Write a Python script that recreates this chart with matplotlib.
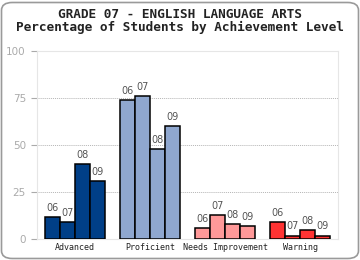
import matplotlib
matplotlib.use("Agg")
import matplotlib.pyplot as plt
from matplotlib.patches import FancyBboxPatch
import numpy as np

categories = ["Advanced", "Proficient", "Needs Improvement", "Warning"]
years = ["06", "07", "08", "09"]
advanced = [12, 9, 40, 31]
proficient = [74, 76, 48, 60]
needs_improvement = [6, 13, 8, 7]
warning = [9, 2, 5, 2]
series = [advanced, proficient, needs_improvement, warning]
colors = ["#003F87", "#8FA7CF", "#FF9999", "#FF3333"]
yticks = [0, 25, 50, 75, 100]

fig = plt.figure(figsize=(3.6, 2.6), dpi=100)
fig.patch.set_facecolor("white")

border = FancyBboxPatch((1.5 / 360, 1.5 / 260), 357 / 360, 256 / 260,
                        boxstyle="round,pad=0,rounding_size=0.03",
                        transform=fig.transFigure, facecolor="none",
                        edgecolor="#9a9a9a", linewidth=1.2, zorder=0)
fig.patches.append(border)

fig.text(0.5, 1 - 14 / 260, "GRADE 07 - ENGLISH LANGUAGE ARTS",
         ha="center", va="center", family="DejaVu Sans Mono",
         fontweight="bold", fontsize=9.2, color="#222222")
fig.text(0.5, 1 - 27 / 260, "Percentage of Students by Achievement Level",
         ha="center", va="center", family="DejaVu Sans Mono",
         fontweight="bold", fontsize=9.2, color="#222222")

ax = fig.add_axes([37 / 360, 20.7 / 260, 301 / 360, 188.3 / 260])
width = 0.2
offsets = [-0.3, -0.1, 0.1, 0.3]
for gi, vals in enumerate(series):
    for bi, v in enumerate(vals):
        x = gi + offsets[bi]
        ax.bar(x, v, width=width, color=colors[gi], edgecolor="black",
               linewidth=1.1, zorder=3)
        ax.annotate(years[bi], (x, v), xytext=(0, 3), textcoords="offset points",
                    ha="center", va="bottom", fontsize=7, color="#555555",
                    family="DejaVu Sans")

ax.set_xlim(-0.5, 3.5)
ax.set_ylim(0, 100)
ax.set_yticks(yticks)
ax.set_yticklabels([str(t) for t in yticks], fontsize=7.5, color="#aaaaaa")
ax.set_xticks(range(len(categories)))
ax.set_xticklabels(categories, fontsize=6, family="DejaVu Sans Mono", color="#222222")
ax.tick_params(axis="x", length=0, pad=3)
ax.tick_params(axis="y", length=4, color="#aaaaaa", width=0.8, pad=4)
for y in [25, 50, 75]:
    ax.axhline(y, color="#b5b5b5", linestyle=(0, (1, 1)), linewidth=0.7, zorder=1)
for s in ["top", "right", "left", "bottom"]:
    ax.spines[s].set_color("#e6e6e6")
    ax.spines[s].set_linewidth(0.8)

fig.savefig("out.png", dpi=100)
